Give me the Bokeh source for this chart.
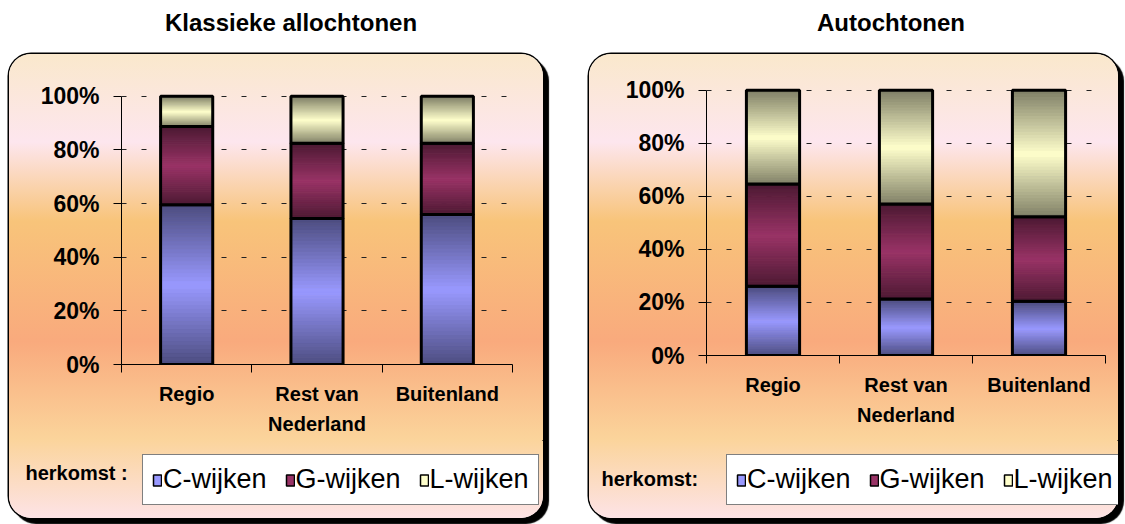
import numpy as np
from bokeh.plotting import figure
from bokeh.models import Range1d, FixedTicker, Legend, LegendItem, Label, Div, Spacer
from bokeh.layouts import row, column
from bokeh.embed import file_html
from bokeh.resources import INLINE

# ---------------- data ----------------
categories = ["Regio", "Rest van\nNederland", "Buitenland"]
series = ["C-wijken", "G-wijken", "L-wijken"]

allochtonen_c = [59.5, 54.4, 55.9]
allochtonen_g = [29.2, 28.1, 26.6]
allochtonen_l = [11.3, 17.5, 17.5]

autochtonen_c = [26.1, 21.3, 20.4]
autochtonen_g = [38.5, 35.8, 31.9]
autochtonen_l = [35.4, 42.9, 47.7]

ytick_values = [0, 20, 40, 60, 80, 100]
ytick_labels = ["0%", "20%", "40%", "60%", "80%", "100%"]

light_colors = ["#9999ff", "#993366", "#ffffcc"]

FONT = "Liberation Sans"
BG = ("linear-gradient(to bottom, #fae8cc 0%, #fde6ee 19%, #f8c47a 36%, "
      "#f9aa7d 62%, #fbd49b 83%, #fde3e6 100%)")


def hex2rgb(h):
    h = h.lstrip("#")
    return np.array([int(h[i:i + 2], 16) for i in (0, 2, 4)], dtype=float)


def rgb2hex(c):
    c = np.clip(np.round(c), 0, 255).astype(int)
    return "#%02x%02x%02x" % tuple(c)


def make_chart(vals, width, height, bl, br, bt, bb):
    p = figure(width=width, height=height, output_backend="svg", toolbar_location=None,
               x_range=Range1d(0, 3), y_range=Range1d(0, 101),
               min_border_left=bl, min_border_right=br, min_border_top=bt, min_border_bottom=bb,
               background_fill_alpha=0, border_fill_alpha=0, outline_line_color=None,
               margin=(0, 0, 0, 0), frame_align=False)
    p.xgrid.visible = False
    p.ygrid.ticker = FixedTicker(ticks=ytick_values)
    p.ygrid.grid_line_color = "#222222"
    p.ygrid.grid_line_dash = "5 15"
    p.ygrid.grid_line_width = 1

    xs = [i + 0.5 for i in range(len(categories))]
    bottoms = np.zeros(len(categories))
    for k, seg in enumerate(vals):
        tops = bottoms + np.array(seg)
        lc = hex2rgb(light_colors[k])
        dc = lc * 0.5
        n = 40
        bx, bb0, bt0, bc = [], [], [], []
        for x, b, t in zip(xs, bottoms, tops):
            for i in range(n):
                s = (i + 0.5) / n
                f = 1 - abs(2 * s - 1)
                col = rgb2hex(dc + (lc - dc) * f)
                bx.append(x)
                bb0.append(b + (t - b) * i / n)
                bt0.append(b + (t - b) * (i + 1) / n)
                bc.append(col)
        p.vbar(x=bx, bottom=bb0, top=bt0, width=0.4, fill_color=bc, line_color=bc, line_width=1)
        p.vbar(x=xs, bottom=list(bottoms), top=list(tops), width=0.4, fill_alpha=0,
               line_color="black", line_width=3)
        bottoms = tops

    ya = p.yaxis[0]
    ya.ticker = FixedTicker(ticks=ytick_values, minor_ticks=[])
    ya.major_label_overrides = {v: l for v, l in zip(ytick_values, ytick_labels)}
    ya.bounds = (0, 100)
    ya.axis_line_color = "black"
    ya.major_tick_out = 8
    ya.major_tick_in = 0
    ya.minor_tick_out = 0
    ya.major_label_standoff = 14
    ya.major_label_text_font = FONT
    ya.major_label_text_font_size = "23px"
    ya.major_label_text_font_style = "bold"
    ya.major_label_text_color = "black"

    xa = p.xaxis[0]
    xa.ticker = FixedTicker(ticks=xs, minor_ticks=list(range(len(categories) + 1)))
    xa.major_label_overrides = {x: c for x, c in zip(xs, categories)}
    xa.bounds = (0, 3)
    xa.axis_line_color = "black"
    xa.major_tick_out = 0
    xa.major_tick_in = 0
    xa.minor_tick_out = 8
    xa.minor_tick_in = 0
    xa.minor_tick_line_color = "black"
    xa.major_label_standoff = 10
    xa.major_label_text_font = FONT
    xa.major_label_text_font_size = "20px"
    xa.major_label_text_font_style = "bold"
    xa.major_label_text_color = "black"
    xa.major_label_text_line_height = 1.4
    return p


def make_legend_fig(vals, width, height, herk_text, herk_xy, leg_xy):
    # the series renderers live outside this figure's visible ranges; only their legend swatches show
    q = figure(width=width, height=height, output_backend="svg", toolbar_location=None,
               x_range=Range1d(-20, -19), y_range=Range1d(-20, -19),
               x_axis_type=None, y_axis_type=None, min_border=0,
               background_fill_alpha=0, border_fill_alpha=0, outline_line_color=None,
               margin=(0, 0, 0, 0), frame_align=False)
    q.grid.visible = False
    xs = [i + 0.5 for i in range(len(categories))]
    items = []
    for k, name in enumerate(series):
        r = q.vbar(x=xs, top=vals[k], width=0.4, fill_color=light_colors[k], line_color="black",
                   line_width=1.5)
        items.append(LegendItem(label=name, renderers=[r]))
    legend = Legend(items=items, orientation="horizontal", location=leg_xy,
                    border_line_color="black", border_line_width=1,
                    background_fill_color="white", background_fill_alpha=1,
                    label_text_font=FONT, label_text_font_size="27px", label_text_color="black",
                    glyph_width=10, glyph_height=14, label_standoff=1,
                    spacing=18, padding=9, margin=0)
    q.add_layout(legend, "center")
    q.add_layout(Label(x=herk_xy[0], y=herk_xy[1], x_units="screen", y_units="screen",
                       text=herk_text, text_font=FONT, text_font_size="20px",
                       text_font_style="bold", text_color="black",
                       text_baseline="middle", text_align="left"))
    return q


def title_div(text, width, indent):
    return Div(text=text, width=width, height=54, margin=(0, 0, 0, 0),
               styles={"font-family": "'Liberation Sans', Arial, sans-serif",
                       "font-size": "24px", "font-weight": "bold", "line-height": "46px",
                       "text-indent": "%dpx" % indent, "white-space": "nowrap",
                       "color": "black"})


PANEL_STYLE = {"background": BG, "border-radius": "22px",
               "box-shadow": "0 0 0 1.5px #000, 5px 5px 1px 1px #000"}

vals_l = [allochtonen_c, allochtonen_g, allochtonen_l]
vals_r = [autochtonen_c, autochtonen_g, autochtonen_l]

chart_l = make_chart(vals_l, 534, 386, 112, 31, 39, 76)
leg_l = make_legend_fig(vals_l, 534, 78, "herkomst :", (16, 46), (133, 13))
panel_l = column(chart_l, leg_l, spacing=0, styles=PANEL_STYLE)

chart_r = make_chart(vals_r, 529, 386, 117, 13, 33, 85)
leg_r = make_legend_fig(vals_r, 529, 78, "herkomst:", (12, 40), (137, 13))
panel_r = column(chart_r, leg_r, spacing=0, styles=PANEL_STYLE)

col_l = column(title_div("Klassieke allochtonen", 534, 156), panel_l, spacing=0)
col_r = column(title_div("Autochtonen", 529, 228), panel_r, spacing=0)

layout = row(Spacer(width=9, height=10), col_l, Spacer(width=46, height=10), col_r, spacing=0)

open("out.html", "w").write(file_html(layout, INLINE))
